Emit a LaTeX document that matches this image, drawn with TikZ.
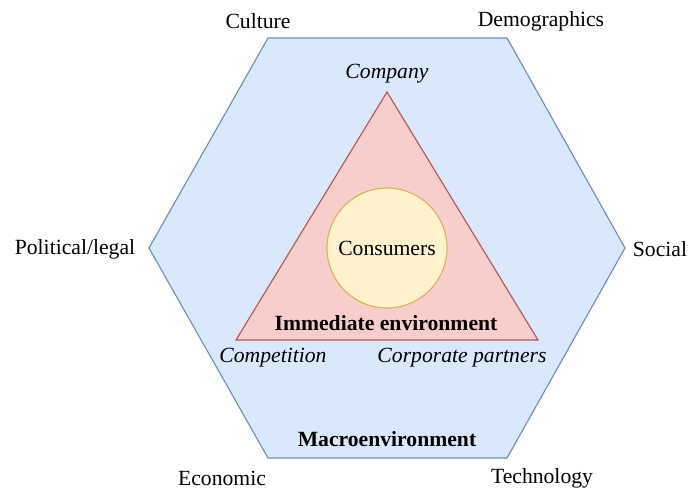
\documentclass[tikz,border=0pt]{standalone}
\usepackage{fontspec}
\setmainfont{Liberation Serif}
\usetikzlibrary{positioning}
\definecolor{macrofill}{HTML}{DAE8FC}
\definecolor{macroline}{HTML}{6C8EBF}
\definecolor{immfill}{HTML}{F8CECC}
\definecolor{immline}{HTML}{B85450}
\definecolor{consfill}{HTML}{FFF2CC}
\definecolor{consline}{HTML}{D6B656}
\tikzset{ force/.style = { font         = \fontsize{15.4}{18}\selectfont
                         , inner sep    = 1pt
                         },
          actor/.style = { font         = \fontsize{15.4}{18}\selectfont\itshape
                         , inner sep    = 1pt
                         },
          title/.style = { font         = \fontsize{15.4}{18}\selectfont\bfseries
                         , inner sep    = 1pt
                         },
          cons/.style  = { circle
                         , draw         = consline
                         , fill         = consfill
                         , line width   = 0.8pt
                         , minimum size = 120*0.025cm
                         , font         = \fontsize{15.4}{18}\selectfont
                         }
        }

\begin{document}
\begin{tikzpicture}[x=0.025cm, y=-0.025cm]
    \useasboundingbox (0,0) rectangle (700,489);

    % macroenvironment hexagon
    \coordinate (h1) at (268,38);
    \coordinate (h2) at (507,38);
    \coordinate (h3) at (625,248);
    \coordinate (h4) at (507,458);
    \coordinate (h5) at (268,458);
    \coordinate (h6) at (149,248);
    \draw[draw=macroline, fill=macrofill, line width=0.8pt]
        (h1) -- (h2) -- (h3) -- (h4) -- (h5) -- (h6) -- cycle;

    % immediate environment triangle
    \coordinate (t1) at (387,92);
    \coordinate (t2) at (538,340);
    \coordinate (t3) at (236,340);
    \draw[draw=immline, fill=immfill, line width=0.8pt]
        (t1) -- (t2) -- (t3) -- cycle;

    \node[cons] (consumers) at (387,248) {Consumers};

    % forces outside
    \node[force] (culture)      at (258,21)  {Culture};
    \node[force] (demographics) at (541,21)  {Demographics};
    \node[force] (political)    at (75,249)  {Political/legal};
    \node[force] (social)       at (660,249) {Social};
    \node[force] (economic)     at (222,478) {Economic};
    \node[force] (technology)   at (542,478) {Technology};

    % actors
    \node[actor] (company)     at (387,74)  {Company};
    \node[actor] (competition) at (273,358) {Competition};
    \node[actor] (partners)    at (462,358) {Corporate partners};

    \node[title] (immediate) at (386,323) {Immediate environment};
    \node[title] (macro)     at (387,439) {Macroenvironment};
\end{tikzpicture}
\end{document}
